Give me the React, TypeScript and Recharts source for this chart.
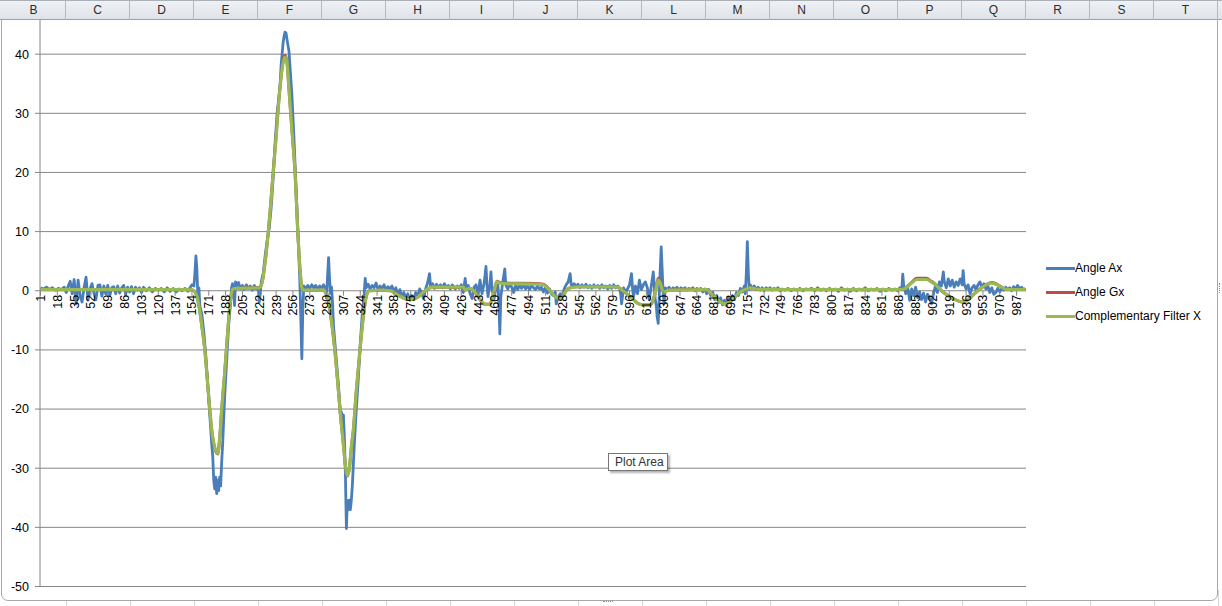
import React from "react";
import {
  LineChart,
  Line,
  XAxis,
  YAxis,
  CartesianGrid,
  ReferenceDot,
} from "recharts";

// sample index -> value
const ANGLE_AX: [number, number][] = [
  [1, 0.5], [4, 0.3], [7, 0.6], [10, 0.2], [13, 0.5], [16, 0.1], [19, 0.4], [22, 0.2], [25, 0.6], [27, -0.3], [29, 0.8],
  [31, 1.6], [33, -0.5], [35, 1.9], [37, -2.2], [39, 1.8], [41, -0.8], [43, -1.9], [45, 0.5], [47, 2.3], [49, -1.6],
  [51, 0.3], [53, 1.2], [55, -0.4], [57, -1.5], [59, 0.9], [61, 1.0], [63, -0.9], [65, 0.8], [67, -0.6], [69, 0.9],
  [71, -0.8], [73, 0.5], [75, 0.7], [77, -0.5], [79, 0.8], [81, -0.4], [83, 0.5], [85, 0.9], [87, -0.6], [89, 0.6],
  [91, -0.2], [93, 0.7], [95, -0.5], [97, 0.6], [99, 0.1], [101, 0.5], [103, -0.3], [105, 0.6], [108, 0.0], [111, 0.5],
  [114, -0.2], [117, 0.4], [120, 0.1], [123, 0.4], [126, -0.2], [129, 0.5], [132, -0.1], [135, 0.4], [138, -0.2],
  [141, 0.3], [144, 0.0], [147, 0.4], [150, -0.1], [152, 0.5], [154, 1.0], [156, 0.8], [157, 3.0], [158, 5.9], [159, 3.5],
  [160, -1.0], [161, 0.5], [162, -2.5], [164, -4], [166, -7], [168, -11], [170, -16], [172, -21], [174, -26], [175, -28],
  [176, -32], [177, -33.5], [178, -31.5], [179, -34.3], [180, -32], [181, -33.8], [182, -31.5], [183, -33], [184, -29],
  [185, -26], [187, -18], [189, -12], [191, -6], [193, -2], [194, 0.5], [195, 1.2], [196, 0.2], [197, -2.5], [198, 1.5],
  [199, 0.8], [201, 1.4], [203, 0.3], [205, 0.9], [207, 0.2], [209, 1.0], [211, 0.4], [213, 0.8], [215, 0.1], [217, 0.9],
  [219, 0.3], [221, 0.6], [222, -1.9], [223, -0.5], [224, 1.5], [226, 3], [228, 6], [230, 8.5], [232, 10.5], [234, 14],
  [236, 19], [238, 25], [240, 30], [242, 33], [243, 34.5], [244, 38], [246, 41.8], [247, 43], [248, 43.7], [249, 43.6],
  [250, 42.5], [252, 40.5], [253, 38], [255, 33], [257, 26], [259, 18], [261, 10], [262, 6], [263, 1.5], [264, -5],
  [265, -11.5], [266, -3], [267, 0.8], [269, 0.3], [271, 0.9], [273, 0.4], [275, 1.0], [277, 0.5], [279, 0.9], [281, 0.2],
  [283, 0.8], [285, 0.5], [287, 1.0], [289, 0.2], [290, -1.3], [291, 2.5], [292, 5.6], [293, 2.0], [294, -0.5], [295, 0.6],
  [296, -2], [297, -6], [299, -10], [300, -12], [302, -16], [304, -21], [305, -20.5], [306, -23], [307, -21], [308, -25],
  [309, -31], [310, -40.2], [311, -35.5], [312, -37], [313, -35.4], [314, -37], [315, -35.4], [316, -33], [318, -26],
  [320, -20], [322, -15], [324, -9], [326, -4], [328, -0.5], [329, 2.1], [330, 0.5], [332, 1.1], [334, 0.3], [336, 0.9],
  [338, 0.5], [340, 1.3], [342, 0.2], [344, 0.8], [346, 0.4], [348, 1.0], [350, 0.1], [352, 0.7], [354, 0.3], [356, 0.8],
  [358, -0.3], [360, 0.5], [362, -0.8], [364, 0.2], [366, -1.0], [368, -0.3], [370, -1.3], [372, -0.5], [374, -1.6],
  [376, -0.8], [378, -1.5], [380, -0.3], [382, -1.0], [384, 0.3], [386, -0.4], [388, -1.3], [390, 0.3], [392, 1.3],
  [394, 2.9], [395, 0.8], [397, 1.2], [399, 0.4], [401, 1.1], [403, 0.6], [405, 1.0], [407, 0.5], [409, 1.2], [411, 0.6],
  [413, 0.9], [415, 0.3], [417, 1.0], [419, 0.5], [420, 0.3], [422, 0.8], [424, 0.4], [426, 1.0], [428, -0.3], [430, 2.1],
  [431, 0.5], [433, 0.9], [435, -0.5], [437, -1.3], [439, 0.6], [441, 1.0], [443, -0.8], [445, 1.8], [447, -0.5],
  [449, 1.2], [450, 2.5], [451, 4.1], [452, 1.0], [453, -1.0], [455, 1.0], [456, 3.2], [457, 0.5], [459, -1.5], [461, 0.5],
  [463, 1.2], [464, -2], [465, -7.3], [466, -1], [468, 1.5], [470, 3.7], [471, 1.0], [473, 0.3], [475, 1.2], [477, 0.6],
  [479, -0.3], [481, 1.0], [483, 0.2], [485, 0.9], [487, 0.4], [489, 1.1], [491, 0.3], [493, 0.8], [495, 0.2], [497, 0.9],
  [499, 0.5], [501, 0.2], [503, 0.8], [505, 0.3], [507, 0.6], [509, -0.2], [511, 0.5], [513, -0.4], [515, 0.3], [517, -0.5],
  [519, -0.8], [521, -0.2], [522, -2.2], [524, -1.0], [526, -0.5], [528, -1.2], [530, 0.3], [532, 1.0], [534, 1.5],
  [536, 2.9], [537, 1.2], [538, 0.6], [540, 1.2], [542, 0.7], [544, 1.1], [546, 0.5], [548, 1.0], [550, 0.6], [552, 1.1],
  [554, 0.5], [556, 0.9], [558, 0.4], [560, 1.0], [562, 0.6], [564, 0.9], [566, 0.4], [568, 1.0], [570, 0.5], [572, 0.8],
  [574, 0.3], [576, 0.9], [578, 0.4], [580, 1.0], [582, 0.5], [584, 0.8], [586, 0.3], [587, -0.5], [588, -2.2], [590, 0.5],
  [592, -0.3], [594, 0.3], [596, 1.0], [598, 2.9], [599, 0.5], [600, -1.0], [602, 0.8], [604, -0.5], [606, 1.8], [608, 0.2],
  [610, 1.0], [612, 1.5], [614, 0.5], [616, -1.5], [618, 0.8], [620, 3.2], [621, 0.8], [622, -1.5], [623, -2.5],
  [624, -4.5], [625, -5.5], [626, -1.0], [627, 3.5], [628, 7.4], [629, 3.5], [630, -0.5], [631, -2.2], [632, 0.5],
  [634, 0.2], [636, 0.6], [638, 0.1], [640, 0.5], [642, 0.2], [644, 0.6], [646, 0.1], [648, 0.5], [650, 0.2], [652, 0.5],
  [654, 0.1], [656, 0.4], [658, 0.2], [660, 0.5], [662, 0.0], [664, 0.4], [666, 0.1], [668, 0.4], [670, -0.2], [672, 0.3],
  [674, -0.5], [676, 0.2], [678, -0.8], [680, -0.3], [682, -1.5], [684, -0.8], [686, -2.0], [688, -1.2], [690, -2.4],
  [692, -1.6], [694, -2.5], [696, -1.2], [698, -2.0], [700, -0.8], [702, -1.5], [704, -0.3], [706, -0.8], [708, 0.4],
  [710, -0.2], [712, 0.8], [713, -0.5], [714, 3.0], [715, 8.3], [716, 3.0], [717, 0.2], [718, 1.0], [720, 0.4], [722, 0.8],
  [724, 0.2], [726, 0.6], [728, 0.1], [730, 0.5], [732, 0.0], [734, 0.5], [736, 0.2], [738, 0.5], [740, 0.1], [742, 0.4],
  [744, 0.2], [746, 0.5], [748, 0.0], [750, 0.3], [753, 0.1], [756, 0.4], [759, 0.0], [762, 0.3], [765, 0.1], [768, 0.4],
  [771, 0.0], [774, 0.3], [777, 0.2], [780, 0.4], [783, 0.0], [786, 0.5], [789, 0.1], [792, 0.3], [795, 0.0], [798, 0.4],
  [801, 0.1], [804, 0.3], [807, -0.1], [810, 0.5], [813, 0.1], [816, 0.3], [819, -0.1], [822, 0.4], [825, 0.0], [828, 0.3],
  [831, 0.1], [834, 0.5], [837, 0.0], [840, 0.3], [843, 0.1], [846, 0.4], [849, -0.1], [852, 0.3], [855, 0.0], [858, 0.4],
  [861, 0.1], [864, 0.3], [867, 0.0], [869, 0.5], [871, 0.2], [872, 2.8], [873, 0.8], [875, -0.5], [877, 0.5], [879, -1.6],
  [881, 0.3], [883, -0.8], [885, 0.6], [887, -1.2], [889, -0.2], [891, -1.5], [893, -0.4], [895, -1.9], [897, -0.6],
  [899, -1.2], [901, -2.2], [903, -0.5], [905, 0.8], [907, -0.3], [909, 1.5], [911, 0.8], [913, 3.2], [914, 1.5],
  [916, 0.5], [918, 2.0], [920, 0.8], [922, 1.8], [924, 0.6], [926, 1.5], [928, 0.9], [930, 2.0], [932, 1.0], [933, 3.4],
  [934, 1.2], [936, 0.3], [938, 1.0], [940, -0.5], [942, 0.5], [944, 0.9], [946, 0.2], [948, 1.0], [950, 1.5], [952, 0.5],
  [954, 1.2], [956, 0.3], [958, 0.8], [960, -0.3], [962, 0.5], [964, -0.6], [966, -0.3], [968, 0.4], [970, -0.2],
  [972, 0.5], [974, 0.1], [976, 0.6], [978, 0.2], [980, 0.5], [982, 0.0], [984, 0.7], [986, 0.2], [988, 0.9], [990, 0.3],
  [992, 0.6], [994, 0.2], [996, 0.4],
];

const ANGLE_GX: [number, number][] = [
  [1, 0.2], [150, 0.2], [155, 0.1], [158, -0.5], [161, -2.5], [164, -6], [167, -10], [170, -16], [174, -23.6],
  [177, -26.6], [180, -27.6], [182, -25], [184, -20.2], [187, -14], [189, -9.5], [191, -5], [193, -1.5], [195, 0.3],
  [200, 0.4], [222, 0.5], [225, 1.5], [228, 5], [231, 9.8], [233, 13.6], [236, 20], [239, 26.2], [241, 30.7], [244, 36.2],
  [246, 38.8], [248, 39.8], [250, 38.7], [251, 36.6], [253, 31.8], [256, 25], [258, 20.4], [261, 9.7], [263, 4],
  [265, 0.5], [267, 0.1], [287, 0.1], [289, -0.3], [291, -0.8], [294, -4], [298, -9.5], [301, -15], [304, -21], [307, -26],
  [309, -29.6], [311, -31.3], [313, -30], [315, -26.5], [317, -23.6], [320, -17], [324, -9.5], [327, -4.5], [330, -1],
  [333, 0], [345, 0.1], [355, 0], [360, -0.5], [364, -0.9], [370, -1.4], [376, -1.5], [382, -1.1], [388, -0.2], [392, 0.3],
  [397, 0.6], [428, 0.6], [430, 0.1], [432, 0.3], [435, 0.4], [440, -0.3], [445, -1.5], [450, -2.3], [455, -2.3],
  [457, -1.5], [459, -0.3], [462, 1.6], [465, 1.4], [470, 1.3], [505, 1.2], [509, 1.1], [514, 0.4], [518, -0.5],
  [522, -1.1], [526, -1.3], [529, -0.8], [532, 0], [536, 0.5], [545, 0.7], [583, 0.7], [588, 0.2], [593, -0.5], [600, -1.5],
  [605, -2.2], [610, -2.4], [617, -2.4], [620, -1.5], [622, -0.2], [625, 2.1], [627, 1.5], [629, 0.2], [631, -0.2],
  [635, 0.1], [674, 0.2], [678, -0.4], [683, -1.2], [688, -1.9], [692, -2.2], [696, -2.0], [700, -1.4], [705, -0.6],
  [710, 0], [714, 0.3], [718, 0.5], [724, 0.3], [730, 0.2], [869, 0.2], [873, 0.3], [877, 0.8], [881, 1.4], [886, 2.1],
  [896, 2.1], [900, 1.7], [905, 1.1], [910, 0.2], [915, -0.5], [920, -1.1], [925, -1.5], [932, -1.9], [936, -1.7],
  [940, -1.2], [945, -0.4], [950, 0.3], [956, 1.0], [962, 1.4], [966, 1.2], [970, 0.8], [974, 0.4], [977, 0.2], [996, 0.2],
];

const COMP_FILTER_X: [number, number][] = [
  [1, 0.2], [150, 0.2], [155, 0.1], [158, -0.5], [161, -2.5], [164, -6], [167, -10], [170, -16], [174, -23.6],
  [177, -26.5], [180, -27.5], [182, -25], [184, -20.2], [187, -14], [189, -9.5], [191, -5], [193, -1.5], [195, 0.3],
  [200, 0.4], [222, 0.5], [225, 1.5], [228, 5], [231, 9.7], [233, 13.5], [236, 19.8], [239, 26], [241, 30.5], [244, 36],
  [246, 38.5], [248, 39.5], [250, 38.5], [251, 36.5], [253, 31.7], [256, 25], [258, 20.4], [261, 9.7], [263, 4],
  [265, 0.5], [267, 0.1], [287, 0.1], [289, -0.3], [291, -0.8], [294, -4], [298, -9.5], [301, -15], [304, -21], [307, -26],
  [309, -29.5], [311, -31.2], [313, -30], [315, -26.5], [317, -23.6], [320, -17], [324, -9.5], [327, -4.5], [330, -1],
  [333, 0], [345, 0.1], [355, 0], [360, -0.5], [364, -0.9], [370, -1.4], [376, -1.5], [382, -1.1], [388, -0.2], [392, 0.3],
  [397, 0.6], [428, 0.6], [430, 0.1], [432, 0.3], [435, 0.4], [440, -0.3], [445, -1.5], [450, -2.3], [455, -2.3],
  [457, -1.5], [459, -0.3], [462, 1.5], [465, 1.3], [470, 1.2], [505, 1.1], [509, 1.0], [514, 0.3], [518, -0.5],
  [522, -1.1], [526, -1.3], [529, -0.8], [532, 0], [536, 0.5], [545, 0.65], [583, 0.65], [588, 0.2], [593, -0.5],
  [600, -1.5], [605, -2.2], [610, -2.4], [617, -2.4], [620, -1.5], [622, -0.3], [625, 1.8], [627, 1.3], [629, 0.2],
  [631, -0.2], [635, 0.1], [674, 0.2], [678, -0.4], [683, -1.2], [688, -1.9], [692, -2.2], [696, -2.0], [700, -1.4],
  [705, -0.6], [710, 0], [714, 0.3], [718, 0.5], [724, 0.3], [730, 0.2], [869, 0.2], [873, 0.3], [877, 0.7], [881, 1.3],
  [886, 1.9], [896, 1.9], [900, 1.6], [905, 1.0], [910, 0.2], [915, -0.5], [920, -1.1], [925, -1.5], [932, -1.9],
  [936, -1.7], [940, -1.2], [945, -0.4], [950, 0.3], [956, 1.0], [962, 1.3], [966, 1.1], [970, 0.8], [974, 0.4],
  [977, 0.2], [996, 0.2],
];

const X_TICKS = [
  1, 18, 35, 52, 69, 86, 103, 120, 137, 154, 171, 188, 205, 222, 239, 256, 273, 290, 307, 324, 341, 358, 375, 392,
  409, 426, 443, 460, 477, 494, 511, 528, 545, 562, 579, 596, 613, 630, 647, 664, 681, 698, 715, 732, 749, 766, 783,
  800, 817, 834, 851, 868, 885, 902, 919, 936, 953, 970, 987,
];
// the 50 line sits under the sheet's header row, so only these show
const Y_TICKS = [-50, -40, -30, -20, -10, 0, 10, 20, 30, 40];
const SHEET_COLUMNS = ["B", "C", "D", "E", "F", "G", "H", "I", "J", "K", "L", "M", "N", "O", "P", "Q", "R", "S", "T"];

const SERIES = [
  { name: "Angle Ax", color: "#4a7ebb", points: ANGLE_AX, width: 2.8, type: "linear" },
  { name: "Angle Gx", color: "#be4b48", points: ANGLE_GX, width: 3, type: "monotone" },
  { name: "Complementary Filter X", color: "#98b954", points: COMP_FILTER_X, width: 3.2, type: "monotone" },
];

const FONT = '"Liberation Sans", Arial, sans-serif';
const AXIS_GRAY = "#868686";

const toRows = (pts: [number, number][]) => pts.map(([x, y]) => ({ x, y }));

// category label hanging under the zero line, Excel style
const CategoryTick = ({ cx, cy, text }: any) => (
  <g>
    <line x1={cx} y1={cy} x2={cx} y2={cy + 5} stroke={AXIS_GRAY} />
    <text
      x={cx}
      y={cy + 4}
      transform={`rotate(-90 ${cx} ${cy + 4})`}
      textAnchor="end"
      dy="0.36em"
      fontSize={12.5}
      fontFamily={FONT}
      fill="#000"
    >
      {text}
    </text>
  </g>
);

export default function App() {
  return (
    <div
      style={{
        position: "fixed",
        left: 0,
        top: 0,
        width: 1222,
        height: 606,
        overflow: "hidden",
        background: "#fff",
        fontFamily: FONT,
      }}
    >
      {/* sheet grid peeking out under the chart */}
      {SHEET_COLUMNS.map((c, i) => (
        <div
          key={"g" + c}
          style={{ position: "absolute", left: 66 + i * 64, top: 590, width: 1, height: 16, background: "#d4d4d4" }}
        />
      ))}

      {/* chart frame */}
      <div
        style={{
          position: "absolute",
          left: 1,
          top: -20,
          width: 1217,
          height: 621,
          boxSizing: "border-box",
          border: "1px solid #a8a8a8",
          borderRadius: 7,
          background: "#fff",
        }}
      />

      <div style={{ position: "absolute", left: 0, top: -15 }}>
        <LineChart width={1222} height={621} margin={{ top: 10, right: 196, bottom: 19.5, left: 0 }}>
          <CartesianGrid vertical={false} stroke={AXIS_GRAY} strokeWidth={1} />
          <XAxis
            type="number"
            dataKey="x"
            domain={[0.5, 996.5]}
            allowDataOverflow
            hide
            height={0}
          />
          <YAxis
            type="number"
            domain={[-50, 50]}
            ticks={Y_TICKS}
            interval={0}
            width={40}
            tickSize={5}
            tickMargin={6}
            axisLine={{ stroke: AXIS_GRAY }}
            tickLine={{ stroke: AXIS_GRAY }}
            tick={{ fill: "#000", fontSize: 12.5, fontFamily: FONT }}
          />
          {SERIES.map((s) => (
            <Line
              key={s.name}
              data={toRows(s.points)}
              dataKey="y"
              name={s.name}
              type={s.type as any}
              stroke={s.color}
              strokeWidth={s.width}
              strokeLinejoin="round"
              dot={false}
              activeDot={false}
              isAnimationActive={false}
            />
          ))}
          {X_TICKS.map((t) => (
            <ReferenceDot
              key={t}
              x={t}
              y={0}
              r={0}
              shape={(p: any) => <CategoryTick cx={p.cx} cy={p.cy} text={t} />}
            />
          ))}
        </LineChart>
      </div>

      {/* legend */}
      <div style={{ position: "absolute", left: 1046, top: 256 }}>
        {SERIES.map((s) => (
          <div key={s.name} style={{ display: "flex", alignItems: "center", height: 24 }}>
            <div style={{ width: 29, height: 3, background: s.color, marginRight: 0 }} />
            <span style={{ fontSize: 12, color: "#000", whiteSpace: "nowrap" }}>{s.name}</span>
          </div>
        ))}
      </div>

      {/* hover tip */}
      <div
        style={{
          position: "absolute",
          left: 608,
          top: 453,
          width: 60,
          height: 18,
          boxSizing: "border-box",
          border: "1px solid #767676",
          background: "#fff",
          boxShadow: "2px 2px 2px rgba(0,0,0,0.3)",
          fontSize: 12,
          color: "#333",
          lineHeight: "16px",
          paddingLeft: 6,
        }}
      >
        Plot Area
      </div>

      {/* frame grips */}
      <div style={{ position: "absolute", left: 603, top: 601, width: 10, height: 3, borderTop: "1px dotted #888" }} />
      <div style={{ position: "absolute", left: 1219, top: 283, width: 2, height: 10, borderLeft: "1px dotted #888" }} />

      {/* column header row */}
      <div
        style={{
          position: "absolute",
          left: 0,
          top: 0,
          width: 1222,
          height: 20,
          boxSizing: "border-box",
          background: "linear-gradient(#eef1f5, #dfe3e8)",
          borderTop: "1px solid #a9b0b8",
          borderBottom: "1px solid #9aa3ad",
        }}
      >
        {SHEET_COLUMNS.map((c, i) => (
          <div
            key={c}
            style={{
              position: "absolute",
              left: 2 + i * 64,
              top: 0,
              width: 64,
              height: 19,
              boxSizing: "border-box",
              borderRight: "1px solid #b4bac1",
              textAlign: "center",
              fontSize: 12,
              lineHeight: "19px",
              color: "#2b2b2b",
            }}
          >
            {c}
          </div>
        ))}
      </div>
    </div>
  );
}
